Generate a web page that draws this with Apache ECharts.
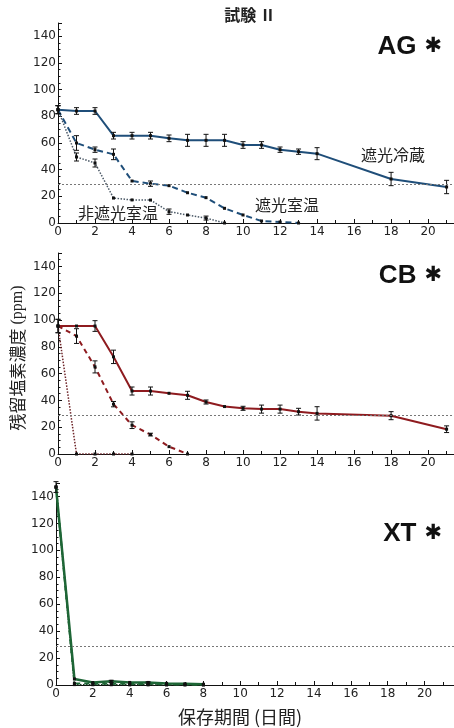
<!DOCTYPE html>
<html>
<head>
<meta charset="utf-8">
<script src="https://cdn.jsdelivr.net/npm/echarts@6/dist/echarts.min.js"></script>
<style>
  html, body { margin: 0; padding: 0; background: #fff; }
  #chart { width: 454px; height: 728px; }
</style>
</head>
<body>
<div id="chart"></div>
<script>
// 保存日数
var daysLong = [0, 1, 2, 3, 4, 5, 6, 7, 8, 9, 10, 11, 12, 13, 14, 18, 21];

// AG
var agShadeCold = [85, 84, 84, 65.5, 65.5, 65.5, 63.5, 62, 62, 62, 58.5, 58.5, 55, 53.5, 52, 33, 27];
var agShadeColdErr = [3, 2.5, 2.5, 2.5, 2.5, 2.5, 2.5, 4.5, 4.5, 4.5, 2.5, 2.5, 2, 2, 4.5, 5, 5];
var agShadeRoomDays = [0, 1, 2, 3, 4, 5, 6, 7, 8, 9, 10, 11, 12, 13];
var agShadeRoom = [85, 60, 55, 51.5, 31.5, 29.5, 28, 22.7, 19, 11, 6, 1.5, 0.8, 0];
var agShadeRoomErr = [3, 5.5, 2, 4, 0, 2, 0, 0, 0, 0, 0, 0, 0, 0];
var agOpenRoomDays = [0, 1, 2, 3, 4, 5, 6, 7, 8, 9];
var agOpenRoom = [85, 49.5, 45, 18.7, 17.3, 17.2, 8.5, 6, 3.7, 0];
var agOpenRoomErr = [3, 3, 3, 0, 0, 0, 2, 0, 1.5, 0];

// CB
var cbShadeCold = [95.5, 95.5, 95.5, 72.5, 47, 47, 45.3, 43.8, 38.8, 35.4, 34.1, 33.5, 33.5, 31.6, 30.3, 28.6, 18.5];
var cbShadeColdErr = [5, 0, 4, 5, 3, 3, 0, 3, 1.5, 0, 1.5, 3, 3, 2.5, 5, 3, 2.5];
var cbShadeRoomDays = [0, 1, 2, 3, 4, 5, 6, 7];
var cbShadeRoom = [95.5, 88, 65, 37.2, 21.5, 14.5, 5.5, 0];
var cbShadeRoomErr = [5, 5.5, 4.5, 2, 2.5, 1, 0, 0];
var cbOpenRoomDays = [0, 1, 2, 3, 4];
var cbOpenRoom = [95.5, 0, 0, 0, 0];

// XT
var xtDays = [0, 1, 2, 3, 4, 5, 6, 7, 8];
var xtShadeCold = [147, 4.5, 1.8, 2.7, 1.9, 1.9, 1.2, 0.9, 0.6];
var xtShadeColdErr = [4, 0, 0, 0.8, 0, 0.5, 0, 0, 0];
var xtShadeRoom = [147, 1.2, 1, 1, 0.8, 0.8, 0.5, 0.3, 0.2];
var xtOpenRoom = [147, 0.3, 0.2, 0.2, 0.1, 0.1, 0, 0, 0];

var yTicks = [0, 20, 40, 60, 80, 100, 120, 140];
var xTicks = [0, 2, 4, 6, 8, 10, 12, 14, 16, 18, 20];
var limitLine = 29;

var labelFont = 'DejaVu Sans';
var cjk = '"Noto Sans CJK JP"';

function pairs(days, vals){
    var out = [];
    for (var i = 0; i < days.length; i++) {
        out.push([days[i], vals[i]]);
    }
    return out;
}

function lineSeries(idx, days, vals, color, type, width){
    return {
        type: 'line',
        xAxisIndex: idx,
        yAxisIndex: idx,
        data: pairs(days, vals),
        symbol: 'rect',
        symbolSize: 3,
        showSymbol: true,
        itemStyle: { color: '#111' },
        lineStyle: { color: color, type: type, width: width },
        z: 3,
        animation: false
    };
}

// 誤差棒
function errSeries(idx, days, vals, errs){
    var data = [];
    for (var i = 0; i < days.length; i++) {
        if (errs[i] > 0) {
            data.push([days[i], vals[i] - errs[i], vals[i] + errs[i]]);
        }
    }
    return {
        type: 'custom',
        xAxisIndex: idx,
        yAxisIndex: idx,
        data: data,
        encode: { x: 0, y: [1, 2] },
        z: 4,
        animation: false,
        renderItem: function (params, api) {
            var lo = api.coord([api.value(0), api.value(1)]);
            var hi = api.coord([api.value(0), api.value(2)]);
            var st = { stroke: '#111', lineWidth: 1 };
            return {
                type: 'group',
                children: [
                    { type: 'line', shape: { x1: lo[0], y1: lo[1], x2: hi[0], y2: hi[1] }, style: st },
                    { type: 'line', shape: { x1: lo[0] - 2.5, y1: lo[1], x2: lo[0] + 2.5, y2: lo[1] }, style: st },
                    { type: 'line', shape: { x1: hi[0] - 2.5, y1: hi[1], x2: hi[0] + 2.5, y2: hi[1] }, style: st }
                ]
            };
        }
    };
}

function limitSeries(idx){
    return {
        type: 'line',
        xAxisIndex: idx,
        yAxisIndex: idx,
        data: [],
        silent: true,
        markLine: {
            symbol: 'none',
            silent: true,
            label: { show: false },
            lineStyle: { color: '#777', type: [2, 2], width: 1 },
            data: [{ yAxis: limitLine }]
        }
    };
}

function xAxisOf(idx, xmax){
    return {
        type: 'value',
        gridIndex: idx,
        min: 0,
        max: xmax,
        interval: 2,
        splitLine: { show: false },
        axisLine: { onZero: false, lineStyle: { color: '#111', width: 1 } },
        axisTick: { inside: true, length: 4, lineStyle: { color: '#111' } },
        minorTick: { show: true, splitNumber: 2, length: 3, lineStyle: { color: '#111' } },
        axisLabel: {
            color: '#222', fontFamily: labelFont, fontSize: 12, margin: 3, showMaxLabel: false,
            formatter: function (v) { return xTicks.indexOf(v) >= 0 ? String(v) : ''; }
        }
    };
}

function yAxisOf(idx){
    return {
        type: 'value',
        gridIndex: idx,
        min: 0,
        max: 150,
        interval: 20,
        splitLine: { show: false },
        axisLine: { show: true, lineStyle: { color: '#111', width: 1 } },
        axisTick: { show: true, inside: true, length: 4, lineStyle: { color: '#111' } },
        minorTick: { show: true, splitNumber: 4, length: 2.5, lineStyle: { color: '#111' } },
        axisLabel: {
            color: '#222', fontFamily: labelFont, fontSize: 12, margin: 2, showMaxLabel: false,
            formatter: function (v) { return yTicks.indexOf(v) >= 0 ? String(v) : ''; }
        }
    };
}

function panelTag(name, y){
    return {
        type: 'text',
        x: 442, y: y,
        style: {
            text: '{a|' + name + '}{s|✱}',
            align: 'right', verticalAlign: 'middle',
            rich: {
                a: { font: 'bold 26px "Liberation Sans"', fill: '#111' },
                s: { font: 'bold 21px "DejaVu Sans"', fill: '#111', padding: [0, 0, 0, 8] }
            }
        }
    };
}

function curveLabel(text, x, y){
    return {
        type: 'text', x: x, y: y,
        style: { text: text, font: '16px ' + cjk, fill: '#222', align: 'center', verticalAlign: 'middle' }
    };
}

var blue = '#1f4e79';
var red = '#8e1b1f';
var green = '#1e6636';

var mychart = echarts.init(document.getElementById('chart'));
var option = {
    backgroundColor: '#fff',
    animation: false,
    grid: [
        { left: 58, right: 0, top: 23, height: 200 },
        { left: 58, right: 0, top: 253, height: 201 },
        { left: 56, right: 0, top: 483, height: 202 }
    ],
    xAxis: [xAxisOf(0, 21.4), xAxisOf(1, 21.4), xAxisOf(2, 21.6)],
    yAxis: [yAxisOf(0), yAxisOf(1), yAxisOf(2)],
    graphic: [
        { type: 'text', x: 250, y: 15, style: { text: '試験 Ⅱ', font: 'bold 16px ' + cjk, fill: '#222', align: 'center', verticalAlign: 'middle' } },
        panelTag('AG', 47),
        panelTag('CB', 276),
        panelTag('XT', 534),
        curveLabel('遮光冷蔵', 393, 155),
        curveLabel('遮光室温', 287, 205),
        curveLabel('非遮光室温', 118, 213),
        {
            type: 'text', x: 18, y: 358, rotation: Math.PI / 2,
            style: {
                text: '{a|残留塩素濃度}{b| (ppm)}',
                align: 'center', verticalAlign: 'middle',
                rich: {
                    a: { font: '17px ' + cjk, fill: '#222' },
                    b: { font: '16px "Liberation Serif"', fill: '#222' }
                }
            }
        },
        {
            type: 'text', x: 240, y: 717,
            style: { text: '保存期間 (日間)', font: '18px ' + cjk, fill: '#222', align: 'center', verticalAlign: 'middle' }
        }
    ],
    series: [
        limitSeries(0),
        lineSeries(0, agOpenRoomDays, agOpenRoom, '#4a5866', 'dotted', 1.5),
        lineSeries(0, agShadeRoomDays, agShadeRoom, blue, [6, 4], 2),
        lineSeries(0, daysLong, agShadeCold, blue, 'solid', 2),
        errSeries(0, agOpenRoomDays, agOpenRoom, agOpenRoomErr),
        errSeries(0, agShadeRoomDays, agShadeRoom, agShadeRoomErr),
        errSeries(0, daysLong, agShadeCold, agShadeColdErr),

        limitSeries(1),
        lineSeries(1, cbOpenRoomDays, cbOpenRoom, '#6e2428', 'dotted', 1.5),
        lineSeries(1, cbShadeRoomDays, cbShadeRoom, red, [5, 4], 2),
        lineSeries(1, daysLong, cbShadeCold, red, 'solid', 2),
        errSeries(1, cbShadeRoomDays, cbShadeRoom, cbShadeRoomErr),
        errSeries(1, daysLong, cbShadeCold, cbShadeColdErr),

        limitSeries(2),
        lineSeries(2, xtDays, xtOpenRoom, '#1a3a22', 'dotted', 1.5),
        lineSeries(2, xtDays, xtShadeRoom, green, [5, 4], 2),
        lineSeries(2, xtDays, xtShadeCold, green, 'solid', 2.5),
        errSeries(2, xtDays, xtShadeCold, xtShadeColdErr)
    ]
};
mychart.setOption(option);
</script>
</body>
</html>
